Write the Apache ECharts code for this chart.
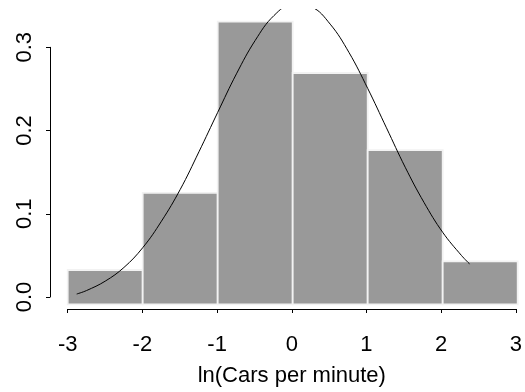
<!DOCTYPE html>
<html>
<head>
<meta charset="utf-8">
<script src="https://cdn.jsdelivr.net/npm/echarts@6/dist/echarts.min.js"></script>
<style>
html,body{margin:0;padding:0;background:#fff;}
#c{width:525px;height:392px;}
</style>
</head>
<body>
<div id="c"></div>
<script>
// Histogram bins (ln cars per minute) and densities
var binStarts = [-3, -2, -1, 0, 1, 2];
var binEnds   = [-2, -1, 0, 1, 2, 3];
var densities = [0.04, 0.13, 0.33, 0.27, 0.18, 0.05];

// Overlaid density curve
var curveX = [-2.88, -2.75, -2.5, -2.25, -2, -1.75, -1.5, -1.25, -1, -0.75, -0.5, -0.25, 0, 0.25, 0.5, 0.75, 1, 1.25, 1.5, 1.75, 2, 2.25, 2.36];
var curveY = [0.012, 0.016, 0.027, 0.043, 0.066, 0.097, 0.134, 0.178, 0.224, 0.269, 0.308, 0.337, 0.350, 0.347, 0.327, 0.294, 0.252, 0.206, 0.160, 0.119, 0.084, 0.057, 0.047];

// Tick labels
var xTicks = [-3, -2, -1, 0, 1, 2, 3];
var yTicks = [0, 0.1, 0.2, 0.3];
var xTitle = 'ln(Cars per minute)';

var FONT = "'Liberation Sans', Arial, Helvetica, sans-serif";
var FS = 22;

var chart = echarts.init(document.getElementById('c'), null, {renderer: 'canvas'});

var curveData = curveX.map(function (x, i) { return [x, curveY[i]]; });
var barData = binStarts.map(function (s, i) { return [s, binEnds[i], densities[i]]; });

// plot region: 75 px per x unit, starting 0.24 units left of -3, running to the canvas edge
var plotLeft = 49.7, plotWidth = 525 - 49.7;
var xMinPlot = -3.24, xMaxPlot = -3.24 + plotWidth / 75;

var option = {
  animation: false,
  backgroundColor: '#ffffff',
  grid: [
    // grid 0: plot region (data)
    {left: plotLeft, top: 9.5, width: plotWidth, height: 306.1},
    // grid 1: axes only
    {left: 67.7, top: 47.3, width: 450, height: 257}
  ],
  xAxis: [
    {gridIndex: 0, type: 'value', min: xMinPlot, max: xMaxPlot, show: false},
    {gridIndex: 1, type: 'value', min: xTicks[0], max: xTicks[xTicks.length - 1], interval: 1,
     offset: 12, position: 'bottom',
     name: xTitle, nameLocation: 'middle', nameGap: 56,
     nameTextStyle: {fontFamily: FONT, fontSize: FS, color: '#000'},
     axisLine: {show: true, onZero: false, lineStyle: {color: '#000', width: 1}},
     axisTick: {show: true, length: 4, lineStyle: {color: '#000', width: 1}},
     axisLabel: {show: true, margin: 25, fontFamily: FONT, fontSize: FS, color: '#000',
       formatter: function (v) { return String(v); }},
     splitLine: {show: false}}
  ],
  yAxis: [
    {gridIndex: 0, type: 'value', min: -0.0132, max: 0.3441, show: false},
    {gridIndex: 1, type: 'value', min: yTicks[0], max: yTicks[yTicks.length - 1], interval: 0.1,
     offset: 17.7, position: 'left',
     axisLine: {show: true, onZero: false, lineStyle: {color: '#000', width: 1}},
     axisTick: {show: true, length: 4, lineStyle: {color: '#000', width: 1}},
     axisLabel: {show: true, rotate: 90, margin: 14, fontFamily: FONT, fontSize: FS, color: '#000',
       formatter: function (v) { return v.toFixed(1); }},
     splitLine: {show: false}}
  ],
  series: [
    {
      type: 'custom',
      xAxisIndex: 0, yAxisIndex: 0,
      data: barData,
      clip: true,
      renderItem: function (params, api) {
        var p0 = api.coord([api.value(0), 0]);
        var p1 = api.coord([api.value(1), api.value(2)]);
        return {
          type: 'rect',
          shape: {x: p0[0], y: p1[1], width: p1[0] - p0[0], height: p0[1] - p1[1]},
          style: {fill: '#999999', stroke: '#f2f2f2', lineWidth: 1.8}
        };
      },
      z: 2
    },
    {
      type: 'line',
      xAxisIndex: 0, yAxisIndex: 0,
      data: curveData,
      smooth: 0.4,
      showSymbol: false,
      symbol: 'none',
      clip: true,
      lineStyle: {color: '#000', width: 1},
      z: 3
    }
  ]
};
chart.setOption(option);
</script>
</body>
</html>
